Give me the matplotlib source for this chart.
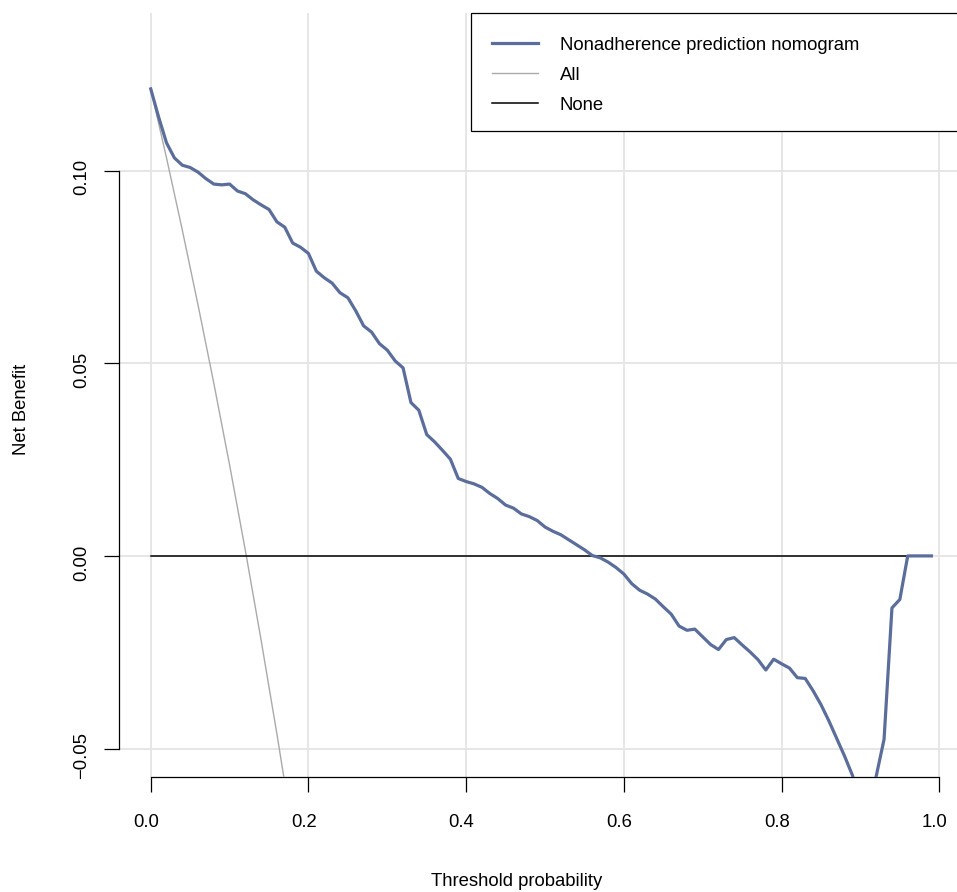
import numpy as np
import matplotlib
matplotlib.use('Agg')
import matplotlib.pyplot as plt
import matplotlib.transforms as mtransforms
from matplotlib.lines import Line2D

# decision curve values
thresholds = np.round(np.arange(0.0, 1.0, 0.01), 2)
nb_model = [
    0.1212, 0.1139, 0.1072, 0.1033, 0.1014, 0.1008, 0.0996, 0.0979, 0.0965, 0.0963,
    0.0965, 0.0947, 0.0940, 0.0924, 0.0911, 0.0899, 0.0867, 0.0853, 0.0812, 0.0801,
    0.0785, 0.0739, 0.0722, 0.0708, 0.0683, 0.0670, 0.0636, 0.0597, 0.0581, 0.0551,
    0.0534, 0.0506, 0.0488, 0.0398, 0.0378, 0.0315, 0.0296, 0.0274, 0.0251, 0.0201,
    0.0193, 0.0187, 0.0178, 0.0162, 0.0149, 0.0132, 0.0124, 0.0109, 0.0102, 0.0092,
    0.0075, 0.0064, 0.0055, 0.0042, 0.0029, 0.0016, 0.0001, -0.0005, -0.0016, -0.0030,
    -0.0047, -0.0072, -0.0089, -0.0099, -0.0112, -0.0132, -0.0151, -0.0182, -0.0193, -0.0190,
    -0.0210, -0.0230, -0.0243, -0.0217, -0.0212, -0.0231, -0.0249, -0.0269, -0.0296, -0.0268,
    -0.0280, -0.0291, -0.0316, -0.0318, -0.0350, -0.0386, -0.0428, -0.0474, -0.0520, -0.0570,
    -0.0640, -0.0650, -0.0572, -0.0476, -0.0135, -0.0113, 0.0000, 0.0000, 0.0000, 0.0000,
]
all_thresholds = [0.00, 0.02, 0.04, 0.06, 0.08, 0.10, 0.12, 0.14, 0.16, 0.18, 0.20]
nb_all = [0.1212, 0.1033, 0.0846, 0.0651, 0.0448, 0.0236, 0.0014, -0.0219, -0.0462, -0.0717, -0.0985]
none_thresholds = [0.0, 0.99]
nb_none = [0.0, 0.0]

x_ticks = [0.0, 0.2, 0.4, 0.6, 0.8, 1.0]
x_labels = ['0.0', '0.2', '0.4', '0.6', '0.8', '1.0']
y_ticks = [-0.05, 0.00, 0.05, 0.10]
y_labels = ['\u22120.05', '0.00', '0.05', '0.10']
legend_labels = ['Nonadherence prediction nomogram', 'All', 'None']

plt.rcParams['font.family'] = ['Liberation Sans', 'DejaVu Sans']
plt.rcParams['font.size'] = 13.3

W, H = 957, 892
fig = plt.figure(figsize=(W / 100, H / 100), dpi=100)
ax = fig.add_axes([119.2 / W, 1 - 776.7 / H, (970.8 - 119.2) / W, (776.7 - 13) / H])
ax.set_xlim(-0.04, 1.04)
ax.set_ylim(-0.0573, 0.1409)

blue = '#5a6d9b'
ax.plot(thresholds, nb_model, color=blue, lw=2.3, zorder=4)
ax.plot(all_thresholds, nb_all, color='#aaaaaa', lw=1.0, zorder=3)
ax.plot(none_thresholds, nb_none, color='black', lw=1.1, zorder=3)

ax.set_xticks(x_ticks, x_labels)
ax.set_yticks(y_ticks, y_labels)
ax.grid(color='#e6e6e6', lw=1.4)
ax.set_axisbelow(True)

for s in ['top', 'right']:
    ax.spines[s].set_visible(False)
ax.spines['left'].set_bounds(-0.05, 0.10)
ax.spines['bottom'].set_bounds(0.0, 1.0)
for s in ['left', 'bottom']:
    ax.spines[s].set_linewidth(0.9)

ax.tick_params(direction='out', length=10.5, width=0.9, colors='black', labelsize=13.3)
ax.tick_params(axis='x', pad=16.5)
ax.tick_params(axis='y', pad=10.5, labelrotation=90)
for lab in ax.get_yticklabels():
    lab.set_va('center')

# R centres its labels a bit off the ticks
dx = mtransforms.ScaledTranslation(-4.6 / 100, 0, fig.dpi_scale_trans)
dy = mtransforms.ScaledTranslation(0, -6.5 / 100, fig.dpi_scale_trans)
for lab in ax.xaxis.get_majorticklabels():
    lab.set_transform(lab.get_transform() + dx)
for lab in ax.yaxis.get_majorticklabels():
    lab.set_transform(lab.get_transform() + dy)

fig.text(517 / W, 1 - 882 / H, 'Threshold probability', ha='center', va='center', fontsize=13.3)
fig.text(22 / W, 1 - 409 / H, 'Net Benefit', rotation=90, ha='center', va='center', fontsize=13.3)

# legend box: frame drawn separately, entries sit a little low like R's
box = plt.Rectangle((471 / W, 1 - 131 / H), (970.8 - 471) / W, 118 / H,
                    transform=fig.transFigure, facecolor='white', edgecolor='black',
                    lw=0.9, clip_on=False, zorder=9)
ax.add_patch(box)

handles = [Line2D([], [], color=blue, lw=2.3),
           Line2D([], [], color='#aaaaaa', lw=1.0),
           Line2D([], [], color='black', lw=1.1)]
leg = ax.legend(handles, legend_labels, loc='upper left',
                bbox_to_anchor=(471 / W, 1 - 134 / H, (970.8 - 471) / W, 118 / H),
                bbox_transform=fig.transFigure, mode='expand', borderaxespad=0,
                frameon=False, fontsize=13.3,
                handlelength=2.5, handletextpad=1.18, labelspacing=0.71, borderpad=1.12)
leg.set_zorder(10)

fig.savefig('out.png', dpi=100)
